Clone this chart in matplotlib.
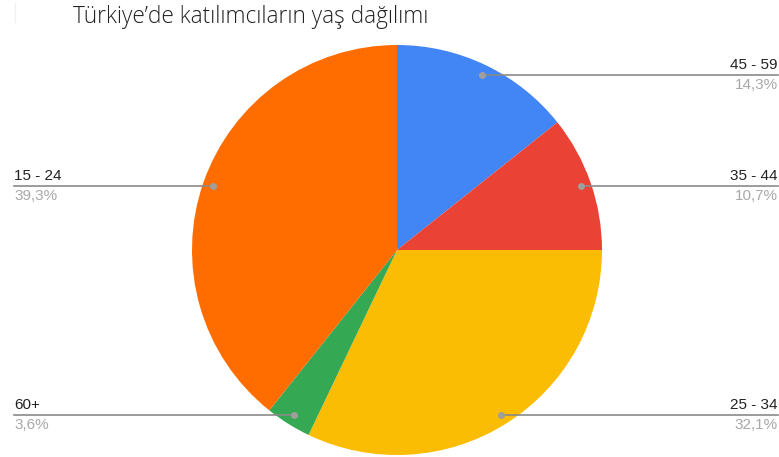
import matplotlib
matplotlib.use("Agg")
import matplotlib.pyplot as plt
import numpy as np
from matplotlib.lines import Line2D

title = "Türkiye’de katılımcıların yaş dağılımı"
categories = ["45 - 59", "35 - 44", "25 - 34", "60+", "15 - 24"]
values = [14.3, 10.7, 32.1, 3.6, 39.3]
pct_labels = ["14,3%", "10,7%", "32,1%", "3,6%", "39,3%"]
colors = ["#4285f4", "#ea4335", "#fbbc04", "#34a853", "#ff6d01"]

W, H = 779, 457
fig = plt.figure(figsize=(W / 100, H / 100), dpi=100)

cx, cy, R = 397, 250, 205
ax = fig.add_axes([(cx - R) / W, (H - cy - R) / H, 2 * R / W, 2 * R / H])
wedges, _ = ax.pie(values, colors=colors, startangle=90, counterclock=False,
                   radius=1, wedgeprops=dict(linewidth=0))
ax.set_xlim(-1, 1)
ax.set_ylim(-1, 1)
ax.set_aspect("auto")
ax.axis("off")

fig.text(73 / W, 1 - 23 / H, title, fontsize=16.3, family=["Open Sans", "DejaVu Sans"],
         fontweight="light", color="#222222", va="baseline", ha="left")
fig.add_artist(Line2D([15 / W, 15 / W], [1 - 3 / H, 1 - 22 / H], color="#f0f0f0", lw=1))

line_col = "#8a8a8a"
for w, cat, pct in zip(wedges, categories, pct_labels):
    mid = np.deg2rad((w.theta1 + w.theta2) / 2)
    px, py = 0.95 * np.cos(mid), 0.95 * np.sin(mid)
    dx, dy = ax.transData.transform((px, py))
    fx, fy = dx / W, dy / H
    if np.cos(mid) >= 0:
        ex, ha, tx = 778 / W, "right", 778 / W
    else:
        ex, ha, tx = 14 / W, "left", 14 / W
    fig.add_artist(Line2D([fx, ex], [fy, fy], color=line_col, lw=1.2))
    fig.add_artist(Line2D([fx], [fy], marker="o", markersize=4, color="#9e9e9e", lw=0))
    fig.text(tx, fy + 3 / H, cat, ha=ha, va="bottom", fontsize=11,
             family=["Liberation Sans", "DejaVu Sans"], color="#222222")
    fig.text(tx, fy - 3 / H, pct, ha=ha, va="top", fontsize=11,
             family=["Liberation Sans", "DejaVu Sans"], color="#a8a8a8")

fig.savefig("out.png", dpi=100)
